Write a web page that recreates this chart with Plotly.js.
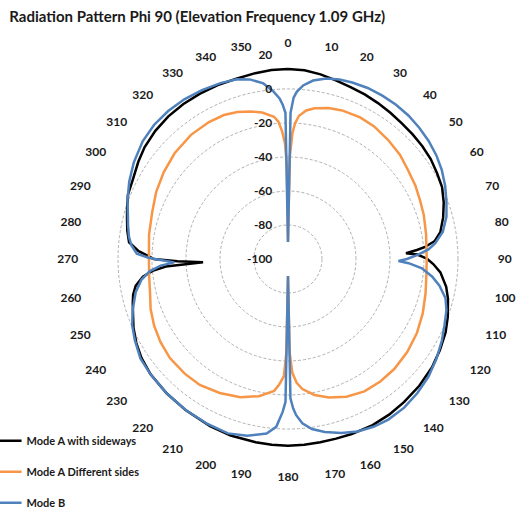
<!DOCTYPE html>
<html>
<head>
<meta charset="utf-8">
<script src="https://cdn.plot.ly/plotly-3.0.1.min.js"></script>
<style>html,body{margin:0;padding:0;background:#fff;}#chart{width:517px;height:513px;}</style>
</head>
<body>
<div id="chart"></div>
<script>
// Angular tick labels (degrees)
const angleTicks = [0,10,20,30,40,50,60,70,80,90,100,110,120,130,140,150,160,170,180,190,200,210,220,230,240,250,260,270,280,290,300,310,320,330,340,350];
const radialTicks = [-100,-80,-60,-40,-20,0,20];

// Series names
const seriesNames = ["Mode A with sideways", "Mode A Different sides", "Mode B"];

// Mode A with sideways (black)
const thetaA = [0,5,10,15,20,25,30,35,40,45,50,55,60,65,70,75,80,83,85,86,87.2,88,89,90,92,95,100,104,110,115,121,127,134,141,147,153,160,165,170,175,180,185,190,198,205,214,222,230,236,241,246,250,254,257,260,263,265,266.5,267.8,268.8,270,271,273,276,280,284,288,292,297,303,308,314,320,326,332,338,344,350,355,360];
const rA = [11.8,11.4,10.3,8.8,7.6,6.8,5.9,5,4.2,3.7,3.2,2.5,1.2,0,-2.5,-5.5,-9,-13,-19,-24,-30.5,-24,-21,-18,-14.5,-10,-5.5,-3,0,2.3,4.2,6,7.4,8.4,9.2,9.7,9.6,9.4,9.5,9.7,9.8,9.7,9.5,9.2,8.5,7.4,6.5,5.5,4,2,-0.5,-3,-5,-6.5,-9,-14,-20,-28,-50,-35,-21,-18.5,-12,-6,-4,-2.4,-0.5,1.5,2.5,5,7,8.5,9.5,10,10.2,10.3,10.3,11,11.6,11.8];

// Mode A Different sides (orange)
const thetaB = [0,1,2,3,4.4,7,10,15,20,27,33,40,47,53,60,66,72,80,90,97,104,112,120,128,136,143,150,157,163.5,169,173.7,176,177.8,179,180,181,182,184,186,192,199,207,215,222,230,237,243.5,250,256.4,263,270,280,289,297,305,313,322,330,336,341,346,350,354.4,356,357.4,358.5,359.3,360];
const rB = [-90,-40,-26,-20,-15.5,-12,-10,-8,-7,-6.5,-7,-8.5,-10,-12,-13.5,-15,-16,-17.5,-18.4,-18,-16.6,-14.5,-12.5,-11,-10,-9.8,-10.1,-12,-15,-18.5,-23,-27,-33,-45,-90,-45,-31,-26,-22,-17.5,-14,-11.5,-9.5,-9.2,-9.3,-10.5,-12,-14,-16.5,-17.7,-18.2,-17,-15.5,-13,-10.8,-8.8,-7.3,-7,-7.3,-8.5,-10.6,-12.5,-15.9,-19,-25,-32,-45,-90];

// Mode B (blue)
const thetaC = [0,1,2,3,5,8,12,16,20,25,30,35,40,45,50,55,60,65,70,75,80,84,86,88,90,91,92,94,97,100,104,108,113,118,124,130,136,142,148,153,158,163,168,172,175,177,178,179,180,181,182,184,187,193,199,206,214,222,230,236,242,247,252,257.7,262,265,267,268.3,269.5,270.5,272,275,278,282,286,290,296,302,309,315,321,327,333,339,344,348,352,355,357,358,359,360];
const rC = [-90,-14,-5,-1.5,2.5,6,8.5,9.8,10.5,11,11,10.8,10.2,9.2,8,6.5,4.5,2,-0.8,-3.5,-7.5,-13,-17,-23,-30,-35,-29,-21,-14.5,-9.5,-4.5,-2,0,2.5,5.3,7.8,9.6,11,11.4,10.8,9.4,7,4,1,-3,-8,-12,-18,-90,-16,-10,-1,3.5,6.7,8.5,8,7.3,6.5,5.6,4.7,2,-0.4,-4,-8.3,-13,-18.5,-25,-33,-25,-18,-11,-7.5,-5.5,-3.8,-2,0.5,3.9,7,10,11.5,12,12,11.5,10.8,10,8,4.3,-1,-5.4,-9,-14,-90];

const colors = ["#000000", "#F79646", "#4F81BD"];
const thetas = [thetaA, thetaB, thetaC];
const rs = [rA, rB, rC];

const traces = seriesNames.map((name, i) => ({
  type: "scatterpolar",
  mode: "lines",
  name: name,
  theta: thetas[i],
  r: rs[i],
  legendgroup: "g" + i,
  line: {color: colors[i], width: 2.5},
  hoverinfo: "skip"
}));

const fontFamily = "Lato, 'Open Sans', 'Liberation Sans', sans-serif";

const layout = {
  width: 517,
  height: 513,
  margin: {l: 0, r: 0, t: 0, b: 0, autoexpand: false},
  paper_bgcolor: "#ffffff",
  plot_bgcolor: "#ffffff",
  showlegend: true,
  title: {
    text: "Radiation Pattern Phi 90 (Elevation Frequency 1.09 GHz)",
    font: {family: fontFamily, size: 15, color: "#1a1a1a", weight: "bold"},
    x: 0.018, xref: "container", xanchor: "left",
    y: 0.967, yref: "container", yanchor: "middle"
  },
  legend: {
    x: -0.026, xanchor: "left",
    y: -0.0083, yanchor: "bottom",
    orientation: "v",
    tracegroupgap: 12,
    font: {family: fontFamily, size: 11, color: "#1a1a1a", weight: "bold"},
    bgcolor: "rgba(0,0,0,0)"
  },
  polar: {
    domain: {x: [0.1625, 0.9516], y: [0.0975, 0.8928]},
    bgcolor: "rgba(0,0,0,0)",
    angularaxis: {
      direction: "clockwise",
      rotation: 90,
      tickmode: "array",
      tickvals: angleTicks,
      ticktext: angleTicks.map(String),
      showgrid: false,
      showline: false,
      ticks: "outside",
      ticklen: 3,
      tickcolor: "rgba(0,0,0,0)",
      tickfont: {family: fontFamily, size: 12, color: "#1a1a1a", weight: "bold"}
    },
    radialaxis: {
      range: [-100, 20],
      angle: 90,
      side: "counterclockwise",
      tickangle: 90,
      tickmode: "array",
      tickvals: radialTicks,
      ticktext: radialTicks.map(String),
      showline: false,
      ticks: "outside",
      ticklen: 11,
      tickcolor: "rgba(0,0,0,0)",
      showgrid: true,
      gridcolor: "#b0b0b0",
      gridwidth: 1,
      griddash: "3px,2px",
      tickfont: {family: fontFamily, size: 12, color: "#1a1a1a", weight: "bold"}
    }
  }
};

Plotly.newPlot("chart", traces, layout, {displayModeBar: false, staticPlot: true});
</script>
</body>
</html>
